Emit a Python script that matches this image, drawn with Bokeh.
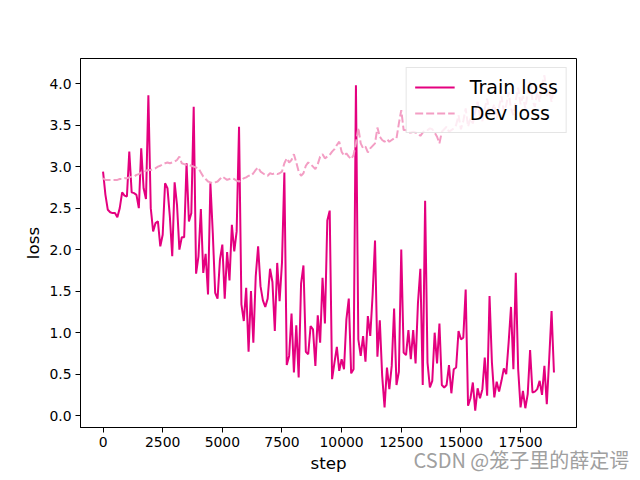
from bokeh.plotting import figure
from bokeh.models import Range1d, FixedTicker, NumeralTickFormatter, Legend, LegendItem, Label
from bokeh.embed import file_html
from bokeh.resources import INLINE

steps = [100 * i for i in range(190)]

train_loss = [
    2.94, 2.66, 2.48, 2.45, 2.44, 2.44, 2.39, 2.50, 2.69, 2.65,
    2.64, 3.18, 2.69, 2.68, 2.66, 2.50, 3.22, 2.74, 2.61, 3.86,
    2.50, 2.22, 2.32, 2.34, 2.04, 2.18, 2.80, 2.74, 2.40, 1.92,
    2.81, 2.54, 2.00, 2.15, 2.15, 3.04, 2.34, 2.44, 3.72, 1.71,
    1.92, 2.49, 1.72, 1.95, 1.46, 2.80, 2.20, 1.48, 1.41, 1.88,
    2.06, 1.41, 1.97, 1.63, 2.30, 1.98, 2.22, 3.48, 1.34, 1.14,
    1.54, 0.77, 1.50, 0.88, 1.68, 2.04, 1.56, 1.39, 1.31, 1.41,
    1.77, 1.61, 1.02, 1.84, 1.38, 1.84, 2.93, 0.61, 0.72, 1.23,
    0.52, 1.09, 0.46, 1.59, 1.81, 0.77, 0.74, 1.08, 1.04, 0.60,
    1.21, 0.88, 1.66, 1.11, 2.35, 2.47, 0.44, 0.64, 0.83, 0.54,
    0.68, 0.56, 1.16, 1.41, 0.51, 0.56, 3.98, 0.92, 0.72, 0.96,
    0.65, 1.20, 0.96, 1.46, 2.11, 0.71, 1.15, 0.48, 0.10, 0.58,
    0.32, 0.60, 1.29, 0.37, 0.53, 2.00, 0.76, 0.73, 1.03, 0.68,
    1.03, 0.63, 1.36, 1.77, 0.37, 2.59, 0.64, 0.34, 0.42, 1.00,
    0.63, 1.11, 0.37, 0.34, 0.37, 0.61, 0.27, 0.56, 0.58, 1.02,
    0.92, 0.94, 1.52, 0.12, 0.21, 0.40, 0.06, 0.33, 0.21, 0.32,
    0.70, 0.24, 1.44, 0.64, 0.22, 0.41, 0.29, 0.42, 0.57, 0.50,
    0.88, 1.31, 0.56, 1.72, 0.56, 0.10, 0.30, 0.09, 0.26, 0.79,
    0.28, 0.29, 0.32, 0.42, 0.25, 0.60, 0.14, 0.68, 1.26, 0.52,
]

dev_loss = [
    2.86, 2.84, 2.84, 2.84, 2.84, 2.84, 2.84, 2.85, 2.85, 2.86,
    2.86, 2.87, 2.88, 2.88, 2.90, 2.91, 2.93, 2.93, 2.95, 2.96,
    2.96, 2.97, 2.98, 3.00, 3.01, 3.03, 3.04, 3.05, 3.04, 3.05,
    3.06, 3.08, 3.12, 3.04, 3.03, 3.02, 3.02, 3.01, 3.00, 2.99,
    2.98, 2.93, 2.88, 2.85, 2.82, 2.81, 2.80, 2.81, 2.82, 2.85,
    2.88, 2.86, 2.84, 2.85, 2.86, 2.85, 2.83, 2.82, 2.84, 2.86,
    2.87, 2.89, 2.89, 2.92, 2.96, 2.99, 2.94, 2.92, 2.90, 2.89,
    2.92, 2.91, 2.92, 2.91, 2.92, 2.94, 3.04, 3.10, 3.05, 3.08,
    3.15, 3.05, 2.94, 2.89, 2.92, 3.01, 3.05, 3.03, 3.00, 2.97,
    3.03, 3.12, 3.15, 3.10, 3.12, 3.14, 3.18, 3.21, 3.26, 3.30,
    3.18, 3.13, 3.16, 3.12, 3.09, 3.14, 3.28, 3.47, 3.28, 3.22,
    3.24, 3.17, 3.22, 3.25, 3.28, 3.47, 3.36, 3.32, 3.30, 3.33,
    3.30, 3.32, 3.34, 3.34, 3.52, 3.68, 3.44, 3.44, 3.41, 3.41,
    3.42, 3.41, 3.40, 3.37, 3.41, 3.44, 3.44, 3.46, 3.45, 3.41,
    3.36, 3.28, 3.42, 3.45, 3.48, 3.42, 3.44, 3.46, 3.50, 3.62,
    3.45, 3.55, 3.70, 3.48, 3.58, 3.52, 3.66, 3.78, 3.60, 3.55,
    3.70, 3.82, 3.62, 3.68, 3.75, 3.58, 3.72, 3.85, 3.66, 3.74,
    3.90, 3.70, 3.62, 3.80, 3.95, 3.75, 3.85, 3.70, 3.88, 4.02,
    3.80, 3.72, 3.90, 3.78, 3.98, 4.10, 3.85, 3.92, 3.78, 3.95,
]

x_ticks = [0, 2500, 5000, 7500, 10000, 12500, 15000, 17500]
y_ticks = [0.0, 0.5, 1.0, 1.5, 2.0, 2.5, 3.0, 3.5, 4.0]

FONT = "DejaVu Sans"
TRAIN_COLOR = "#e4007f"
DEV_COLOR = "#f39ec4"

# matplotlib-like 5% margins
xmin, xmax = min(steps), max(steps)
xr = xmax - xmin
ymin = min(min(train_loss), min(dev_loss))
ymax = max(max(train_loss), max(dev_loss))
yr = ymax - ymin

p = figure(
    width=640, height=480,
    output_backend="svg", toolbar_location=None,
    x_range=Range1d(xmin - 0.05 * xr, xmax + 0.05 * xr),
    y_range=Range1d(ymin - 0.05 * yr, ymax + 0.05 * yr),
    min_border_left=80, min_border_right=64,
    min_border_top=58, min_border_bottom=53,
)
p.grid.visible = False
p.outline_line_color = "black"
p.outline_line_width = 1
p.background_fill_color = "white"
p.border_fill_color = "white"

r_train = p.line(steps, train_loss, line_color=TRAIN_COLOR, line_width=2)
r_dev = p.line(steps, dev_loss, line_color=DEV_COLOR, line_width=2, line_dash="8 3")

for ax in (p.xaxis[0], p.yaxis[0]):
    ax.axis_line_color = "black"
    ax.major_tick_line_color = "black"
    ax.major_tick_out = 5
    ax.major_tick_in = 0
    ax.minor_tick_line_color = None
    ax.major_label_text_font = FONT
    ax.major_label_text_font_size = "13.9px"
    ax.major_label_text_color = "black"
    ax.axis_label_text_font = FONT
    ax.axis_label_text_font_size = "16.7px"
    ax.axis_label_text_font_style = "normal"
    ax.axis_label_text_color = "black"
    ax.major_label_standoff = 4

p.xaxis[0].ticker = FixedTicker(ticks=x_ticks)
p.yaxis[0].ticker = FixedTicker(ticks=y_ticks)
p.yaxis[0].formatter = NumeralTickFormatter(format="0.0")
p.xaxis[0].axis_label = "step"
p.yaxis[0].axis_label = "loss"
p.xaxis[0].axis_label_standoff = 3
p.yaxis[0].axis_label_standoff = 3

legend = Legend(
    items=[LegendItem(label="Train loss", renderers=[r_train]),
           LegendItem(label="Dev loss", renderers=[r_dev])],
    location="top_right",
    label_text_font=FONT, label_text_font_size="19px", label_text_color="black",
    glyph_width=40, label_standoff=15, padding=8, spacing=4, margin=9,
    border_line_color="#cccccc", background_fill_alpha=0.8,
)
p.add_layout(legend)

# watermark: placed in the (roomy) top panel so the frame keeps its size,
# then shifted down to the bottom-right corner of the canvas
wm = Label(x=333, y=-415, x_units="screen", y_units="screen",
           text="CSDN @笼子里的薛定谔", text_font="Noto Sans CJK SC",
           text_font_size="20px", text_color="#a0a0a0")
p.add_layout(wm, "above")

open("out.html", "w").write(file_html(p, INLINE))
